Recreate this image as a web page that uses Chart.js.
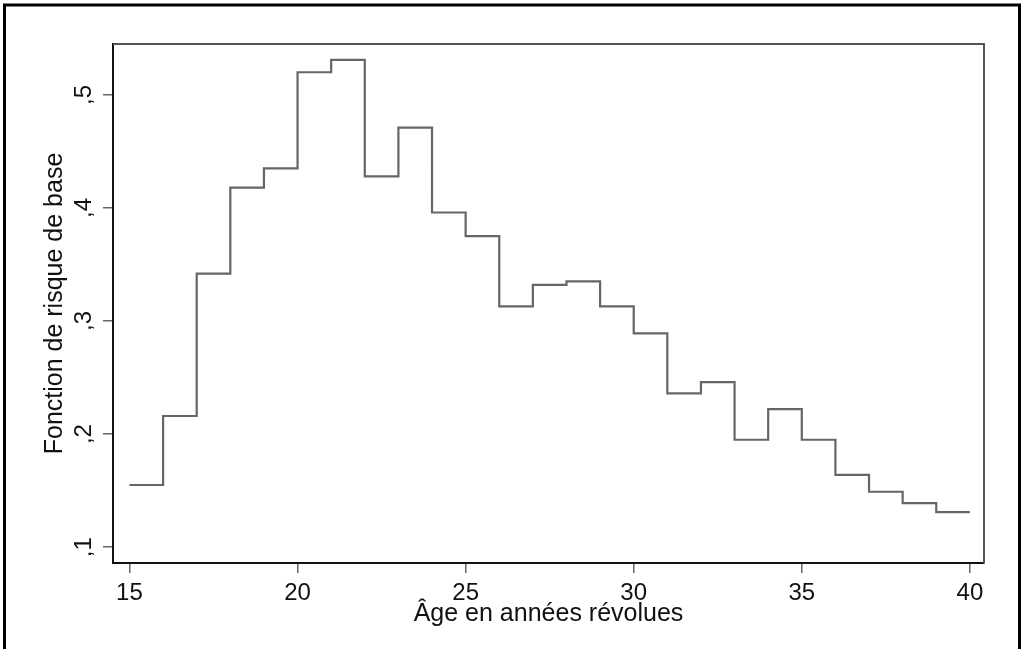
<!DOCTYPE html>
<html>
<head>
<meta charset="utf-8">
<script src="https://cdn.jsdelivr.net/npm/chart.js@4/dist/chart.umd.min.js"></script>
<style>
  html, body { margin: 0; padding: 0; background: #fff; }
  canvas { display: block; }
</style>
</head>
<body>
<canvas id="c" width="1023" height="649"></canvas>
<script>
// Baseline hazard by age (step function, value holds until the next age)
const ages = [15, 16, 17, 18, 19, 20, 21, 22, 23, 24, 25, 26, 27, 28, 29, 30, 31, 32, 33, 34, 35, 36, 37, 38, 39, 40];
const hazard = [0.155, 0.216, 0.342, 0.418, 0.435, 0.520, 0.531, 0.428, 0.471, 0.396, 0.375, 0.313, 0.332,
                0.335, 0.313, 0.289, 0.236, 0.246, 0.195, 0.222, 0.195, 0.164, 0.149, 0.139, 0.131, 0.131];

const xTicks = [15, 20, 25, 30, 35, 40];
const yTicks = [0.1, 0.2, 0.3, 0.4, 0.5];

const xTitle = 'Âge en années révolues';
const yTitle = 'Fonction de risque de base';

const FONT = 'Liberation Sans, Arial, sans-serif';

// outer graph frame + top/right edges of the plot region
const framePlugin = {
    id: 'frames',
    afterDraw(chart) {
        const ctx = chart.ctx;
        const a = chart.chartArea;
        ctx.save();
        ctx.strokeStyle = '#000';
        ctx.lineWidth = 3;
        ctx.beginPath();
        ctx.moveTo(4.5, 660);
        ctx.lineTo(4.5, 5);
        ctx.lineTo(1019.5, 5);
        ctx.lineTo(1019.5, 660);
        ctx.stroke();

        ctx.strokeStyle = '#555';
        ctx.lineWidth = 2;
        ctx.beginPath();
        ctx.moveTo(a.left, a.top);
        ctx.lineTo(a.right, a.top);
        ctx.lineTo(a.right, a.bottom);
        ctx.stroke();
        ctx.restore();
    }
};

new Chart(document.getElementById('c'), {
    type: 'line',
    data: {
        datasets: [{
            data: ages.map((a, i) => ({ x: a, y: hazard[i] })),
            stepped: 'before',   // hold value, then jump at next age
            borderColor: '#666',
            borderWidth: 2.2,
            pointRadius: 0,
            fill: false
        }]
    },
    options: {
        responsive: false,
        animation: false,
        devicePixelRatio: 1,
        layout: { padding: { top: 44, right: 39, left: 0, bottom: 0 } },
        plugins: { legend: { display: false }, tooltip: { enabled: false } },
        scales: {
            x: {
                type: 'linear',
                min: 14.51,
                max: 40.42,
                afterBuildTicks: s => { s.ticks = xTicks.map(v => ({ value: v })); },
                afterFit: s => { s.height = 86; },
                ticks: {
                    autoSkip: false,
                    maxRotation: 0,
                    padding: 6,
                    color: '#111',
                    font: { family: FONT, size: 24 }
                },
                grid: { drawOnChartArea: false, drawTicks: true, tickLength: 10, color: '#666', lineWidth: 1.5 },
                border: { display: true, color: '#111', width: 2 },
                title: {
                    display: true,
                    text: xTitle,
                    color: '#111',
                    font: { family: FONT, size: 25 },
                    padding: { top: 0, bottom: 20 }
                }
            },
            y: {
                type: 'linear',
                min: 0.086,
                max: 0.545,
                afterBuildTicks: s => { s.ticks = yTicks.map(v => ({ value: v })); },
                afterFit: s => { s.width = 113; },
                ticks: {
                    autoSkip: false,
                    minRotation: 90,
                    maxRotation: 90,
                    crossAlign: 'center',
                    padding: 9,
                    color: '#111',
                    font: { family: FONT, size: 24 },
                    callback: v => ',' + Math.round(v * 10)
                },
                grid: { drawOnChartArea: false, drawTicks: true, tickLength: 10, color: '#666', lineWidth: 1.5 },
                border: { display: true, color: '#111', width: 2 },
                title: {
                    display: true,
                    text: yTitle,
                    color: '#111',
                    font: { family: FONT, size: 25 },
                    padding: { top: 40, bottom: 0 }
                }
            }
        }
    },
    plugins: [framePlugin]
});
</script>
</body>
</html>
